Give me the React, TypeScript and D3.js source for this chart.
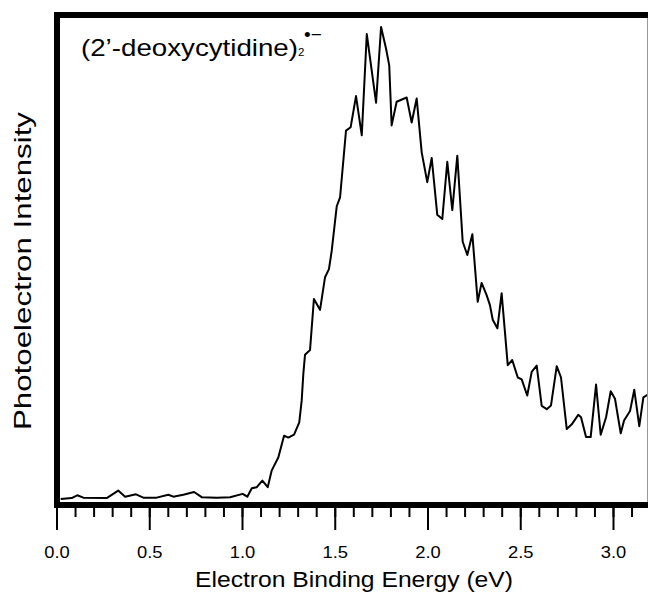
import React from 'react';
import * as d3 from 'd3';

// photoelectron spectrum
const energy = [
  0.020, 0.079, 0.109, 0.142, 0.268, 0.330, 0.367, 0.426, 0.465, 0.537,
  0.600, 0.627, 0.681, 0.739, 0.780, 0.861, 0.933, 1.001, 1.026, 1.050,
  1.077, 1.107, 1.136, 1.157, 1.193, 1.224, 1.247, 1.278, 1.306, 1.319,
  1.328, 1.337, 1.364, 1.385, 1.418, 1.445, 1.466, 1.481, 1.508, 1.526,
  1.558, 1.583, 1.612, 1.643, 1.670, 1.720, 1.747, 1.774, 1.791, 1.804,
  1.831, 1.885, 1.912, 1.939, 1.966, 1.996, 2.020, 2.050, 2.077, 2.104,
  2.131, 2.158, 2.187, 2.212, 2.239, 2.268, 2.289, 2.316, 2.334, 2.349,
  2.374, 2.397, 2.430, 2.454, 2.484, 2.505, 2.535, 2.559, 2.586, 2.613,
  2.640, 2.663, 2.694, 2.717, 2.748, 2.775, 2.810, 2.825, 2.852, 2.877,
  2.906, 2.931, 2.960, 2.985, 3.008, 3.039, 3.057, 3.089, 3.112, 3.139,
  3.161, 3.186
];
const intensity = [
  0.2, 0.4, 1.0, 0.5, 0.4, 2.0, 0.7, 1.2, 0.5, 0.5,
  1.1, 0.7, 1.1, 1.7, 0.6, 0.5, 0.6, 1.3, 0.7, 2.5,
  2.7, 4.1, 2.7, 6.2, 9.0, 13.6, 13.2, 13.8, 16.4, 21.0,
  26.7, 30.7, 31.7, 42.5, 40.2, 47.1, 48.8, 52.7, 62.1, 64.0,
  78.1, 78.8, 85.4, 77.1, 98.5, 84.0, 100, 95.4, 91.9, 79.2,
  84.2, 85.1, 79.8, 84.9, 73.5, 67.2, 72.3, 60.3, 59.4, 71.5,
  61.3, 72.8, 54.6, 51.8, 56.2, 41.9, 45.9, 43.3, 41.2, 38.1,
  36.3, 43.7, 28.5, 29.6, 25.9, 25.5, 22.1, 27.1, 28.4, 19.9,
  19.2, 20.0, 28.3, 25.9, 15.0, 16.0, 18.0, 17.5, 13.3, 13.3,
  24.4, 13.8, 17.5, 23.0, 21.4, 14.1, 16.8, 18.8, 23.3, 15.6,
  21.7, 22.3
];

const majorTicks = [0, 0.5, 1.0, 1.5, 2.0, 2.5, 3.0];
const tickLabels = ['0.0', '0.5', '1.0', '1.5', '2.0', '2.5', '3.0'];

const W = 648, H = 593;
const font = '"Liberation Sans", Arial, Helvetica, sans-serif';

export default function App() {
  const x = d3.scaleLinear().domain([0, 3.186]).range([57, 648]);
  const y = d3.scaleLinear().domain([0, 100]).range([500, 27]);

  const pts = energy.map((e, i) => [e, intensity[i]] as [number, number]);
  const line = d3.line<[number, number]>()
    .x(d => x(d[0]))
    .y(d => y(d[1]));

  const minorTicks = d3.range(0, 3.15, 0.1);

  return (
    <svg width={W} height={H}
      style={{ position: 'absolute', left: 0, top: 0, display: 'block', background: '#fff' }}
      fontFamily={font}>
      <defs>
        <clipPath id="plot">
          <rect x={57} y={15} width={590} height={490} />
        </clipPath>
      </defs>

      <path d={line(pts) || ''} fill="none" stroke="#000" strokeWidth={2}
        strokeLinejoin="round" clipPath="url(#plot)" />

      {/* frame */}
      <line x1={647.5} x2={647.5} y1={15} y2={505} stroke="#999" strokeWidth={1} />
      <line x1={54} x2={648} y1={15} y2={15} stroke="#000" strokeWidth={6} />
      <line x1={54} x2={648} y1={505} y2={505} stroke="#000" strokeWidth={6} />
      <line x1={57} x2={57} y1={12} y2={508} stroke="#000" strokeWidth={6} />

      {/* ticks */}
      {minorTicks.map((t, i) => (
        <line key={'m' + i} x1={x(t)} x2={x(t)} y1={508} y2={517} stroke="#000" strokeWidth={2} />
      ))}
      {majorTicks.map((t, i) => (
        <line key={'M' + i} x1={x(t)} x2={x(t)} y1={508} y2={530} stroke="#000" strokeWidth={2} />
      ))}
      {majorTicks.map((t, i) => (
        <text key={'l' + i} x={x(t)} y={558} fontSize={16} textAnchor="middle"
          textLength={25.5} lengthAdjust="spacingAndGlyphs" fill="#000">
          {tickLabels[i]}
        </text>
      ))}

      <text x={354} y={587} fontSize={22} textAnchor="middle"
        textLength={318} lengthAdjust="spacingAndGlyphs" fill="#000">
        Electron Binding Energy (eV)
      </text>

      <text transform="translate(31,271) rotate(-90)" fontSize={24} textAnchor="middle"
        textLength={318} lengthAdjust="spacingAndGlyphs" fill="#000">
        Photoelectron Intensity
      </text>

      {/* species label */}
      <text x={81} y={56} fontSize={24.5} textLength={217} lengthAdjust="spacingAndGlyphs" fill="#000">
        (2’-deoxycytidine)
      </text>
      <text x={298} y={56} fontSize={11.5} fill="#000">2</text>
      <text x={304} y={41} fontSize={19} fill="#000">•−</text>
    </svg>
  );
}
